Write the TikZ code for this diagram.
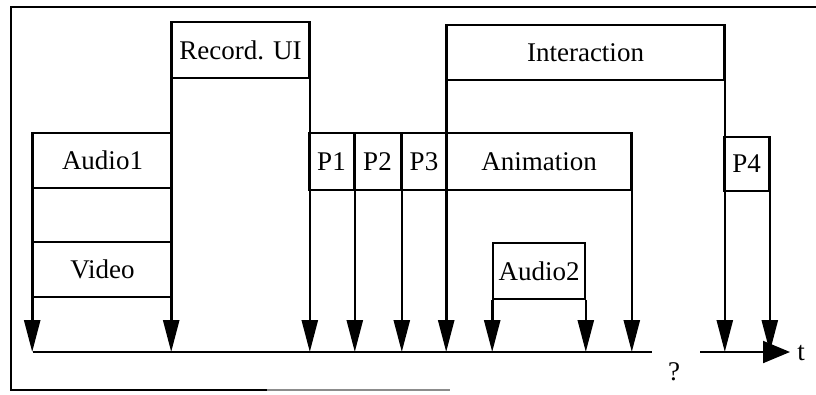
\documentclass[tikz,border=0pt]{standalone}
\usepackage{fontspec}
\setmainfont{Liberation Serif}
\usetikzlibrary{arrows.meta}
\begin{document}
\begin{tikzpicture}[x=1pt,y=-1pt,
  box/.style={draw, line width=1.6pt, inner sep=0pt, font=\fontsize{27}{30}\selectfont},
  lbl/.style={inner sep=0pt, font=\fontsize{27}{30}\selectfont},
  drop/.style={line width=2.6pt, -{Triangle[length=32pt,width=16pt]}},
  rule/.style={line width=1.6pt},
]
\useasboundingbox (0,0) rectangle (816,394);
% frame
\draw[line width=1.8pt] (816,7) -- (11,7) -- (11,390) -- (267,390);
\draw[line width=1.4pt, black!45] (267,390) -- (450,390);

% baseline coordinates
\coordinate (b0) at (33,352);
\coordinate (b1) at (652,352);
\coordinate (a0) at (700,352);
\coordinate (a1) at (790,352);

% boxes
\node[box, minimum width=139pt, minimum height=55pt] (audio1) at (102.5,160.5) {Audio1};
\node[box, minimum width=139pt, minimum height=55pt] (video) at (102.5,269.5) {Video};
\node[box, minimum width=137pt, minimum height=56pt] (rec) at (240.5,50) {Record. UI};
\node[box, minimum width=45pt, minimum height=57pt] (p1) at (331.5,161.5) {P1};
\node[box, minimum width=47pt, minimum height=57pt] (p2) at (377.5,161.5) {P2};
\node[box, minimum width=46pt, minimum height=57pt] (p3) at (424,161.5) {P3};
\node[box, minimum width=184pt, minimum height=57pt] (anim) at (539,161.5) {Animation};
\node[box, minimum width=277pt, minimum height=55pt] (inter) at (585.5,52.5) {Interaction};
\node[box, minimum width=45pt, minimum height=54pt] (p4) at (746.5,164) {P4};
\node[box, minimum width=92pt, minimum height=56pt] (audio2) at (539,271) {Audio2};

% time axis
\draw[rule] (b0) -- (b1);
\draw[line width=2pt, -{Triangle[length=27pt,width=22pt]}] (a0) -- (a1);
\node[lbl] (q) at (674,372) {?};
\node[lbl] (t) at (801,353) {t};

% drops
\draw[drop] (audio1.north west) -- (audio1.north west |- b0);
\draw[drop] (rec.north west) -- (rec.north west |- b0);
\draw[drop] (rec.north east) -- (rec.north east |- b0);
\draw[drop] (p1.north east) -- (p1.north east |- b0);
\draw[drop] (p2.north east) -- (p2.north east |- b0);
\draw[drop] (inter.north west) -- (inter.north west |- b0);
\draw[drop] (audio2.south west) -- (audio2.south west |- b0);
\draw[drop] (audio2.south east) -- (audio2.south east |- b0);
\draw[drop] (anim.north east) -- (anim.north east |- b0);
\draw[drop] (inter.north east) -- (inter.north east |- a0);
\draw[drop] (p4.north east) -- (p4.north east |- a0);
\end{tikzpicture}
\end{document}
